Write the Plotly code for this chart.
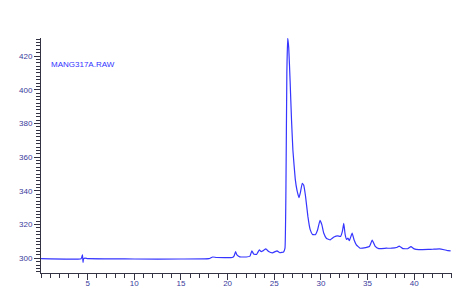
import plotly.graph_objects as go

# Retention time (min) and intensity
time_min = [0.0, 4.3, 4.45, 4.5, 4.55, 4.7, 5.0, 7.0, 8.0, 10.0, 15.0, 18.0, 18.4, 18.8,
            20.5, 20.7, 20.85, 21.0, 21.3, 22.0, 22.4, 22.6, 22.8, 23.1, 23.4, 23.6, 23.8,
            24.1, 24.4, 24.8, 25.1, 25.3, 25.6, 26.0, 26.15, 26.25, 26.35, 26.44, 26.55,
            26.7, 26.85, 27.0, 27.25, 27.45, 27.65, 27.8, 28.0, 28.15, 28.35, 28.6, 28.85,
            29.1, 29.4, 29.65, 29.9, 30.1, 30.3, 30.6, 31.0, 31.4, 31.8, 32.1, 32.3, 32.45,
            32.6, 32.75, 32.9, 33.05, 33.35, 33.55, 33.8, 34.2, 34.8, 35.2, 35.5, 35.8,
            36.2, 37.0, 37.6, 38.1, 38.4, 38.8, 39.3, 39.65, 40.0, 40.5, 41.5, 42.0, 42.7,
            43.2, 43.5, 43.9]
intensity = [299.8, 299.8, 302.0, 297.6, 299.5, 300.1, 299.8, 299.7, 299.7, 299.6, 299.6,
             299.8, 300.8, 300.5, 300.5, 301.5, 304.0, 302.0, 300.9, 300.8, 301.3, 304.5,
             302.5, 302.3, 305.0, 304.0, 304.5, 305.6, 304.0, 303.2, 304.0, 304.4, 303.3,
             303.8, 306.0, 340.0, 410.0, 430.5, 425.0, 405.0, 382.0, 364.0, 347.0, 340.0,
             336.0, 339.0, 344.5, 343.5, 337.0, 325.0, 317.0, 314.2, 314.0, 317.0, 322.5,
             320.0, 315.0, 311.8, 311.0, 312.6, 313.3, 313.0, 316.0, 320.8, 314.0, 311.2,
             312.0, 310.5, 315.0, 311.0, 308.0, 306.0, 306.4, 307.0, 310.8, 307.3, 305.8,
             306.0, 306.0, 306.4, 307.3, 305.8, 305.7, 306.9, 305.6, 305.2, 305.3, 305.4,
             305.6, 305.1, 304.7, 304.4]

x_tick_vals = [5, 10, 15, 20, 25, 30, 35, 40]
y_tick_vals = [300, 320, 340, 360, 380, 400, 420]
label_text = "MANG317A.RAW"

axis_col = "#333344"
lab_col = "#3a3a9c"
font_fam = "Liberation Sans, Arial, sans-serif"

fig = go.Figure()
fig.add_trace(go.Scatter(x=time_min, y=intensity, mode="lines",
                         line=dict(color="#3535ff", width=1.2, shape="spline", smoothing=0.3),
                         hoverinfo="skip", showlegend=False))

fig.update_layout(
    width=452, height=296,
    margin=dict(l=41, r=0, t=38, b=23),
    paper_bgcolor="white", plot_bgcolor="white",
    font=dict(family=font_fam, size=8, color=lab_col),
    xaxis=dict(range=[0, 44.05], tickvals=x_tick_vals, showgrid=False, zeroline=False,
               showline=True, linecolor=axis_col, linewidth=1,
               ticks="outside", ticklen=6, tickcolor=axis_col, tickwidth=1,
               ticklabelstandoff=-4,
               tickfont=dict(size=8, color=lab_col, family=font_fam),
               minor=dict(dtick=1, tick0=0, ticks="outside", ticklen=4, tickcolor=axis_col, showgrid=False)),
    yaxis=dict(range=[291.3, 430.7], tickvals=y_tick_vals, showgrid=False, zeroline=False,
               showline=True, linecolor=axis_col, linewidth=1,
               ticks="outside", ticklen=6, tickcolor=axis_col, tickwidth=1,
               ticklabelstandoff=0,
               tickfont=dict(size=8, color=lab_col, family=font_fam),
               minor=dict(dtick=2, tick0=0, ticks="outside", ticklen=4, tickcolor=axis_col, showgrid=False)),
    annotations=[dict(text=label_text, xref="paper", yref="paper", x=0.0195, y=0.889,
                      xanchor="left", yanchor="middle", showarrow=False,
                      font=dict(size=8, color="#3333ff", family=font_fam))],
)

fig.write_html("out.html")
